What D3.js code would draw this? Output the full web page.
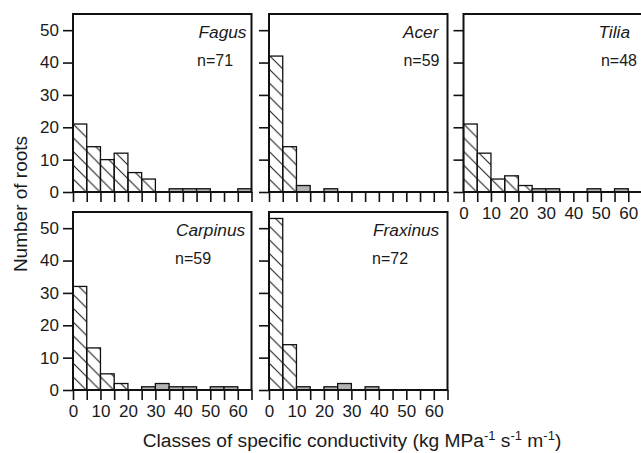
<!DOCTYPE html>
<html><head><meta charset="utf-8">
<script src="https://cdn.jsdelivr.net/npm/d3@7"></script>
<style>body{margin:0;background:#fff} svg{display:block}</style>
</head><body><svg id="c" width="641" height="453"></svg>
<script>
// ---- data ----
const binStarts = [0,5,10,15,20,25,30,35,40,45,50,55,60];
const binWidth = 5;
const xTicks = [0,5,10,15,20,25,30,35,40,45,50,55,60,65];
const xTickLabels = [0,10,20,30,40,50,60];
const yTicks = [0,10,20,30,40,50];
const species = ["Fagus","Acer","Tilia","Carpinus","Fraxinus"];
const sampleSizes = [71,59,48,59,72];
const fagusHatched    = [21,14,10,12,6,4,0,0,0,0,0,0,0];
const fagusGrey       = [0,0,0,0,0,0,0,1,1,1,0,0,1];
const acerHatched     = [42,14,0,0,0,0,0,0,0,0,0,0,0];
const acerGrey        = [0,0,2,0,1,0,0,0,0,0,0,0,0];
const tiliaHatched    = [21,12,4,5,2,0,0,0,0,0,0,0,0];
const tiliaGrey       = [0,0,0,0,0,1,1,0,0,1,0,1,0];
const carpinusHatched = [32,13,5,2,0,0,0,0,0,0,0,0,0];
const carpinusGrey    = [0,0,0,0,0,1,2,1,1,0,1,1,0];
const fraxinusHatched = [53,14,0,0,0,0,0,0,0,0,0,0,0];
const fraxinusGrey    = [0,0,1,0,1,2,0,1,0,0,0,0,0];
const hatchedSeries = [fagusHatched, acerHatched, tiliaHatched, carpinusHatched, fraxinusHatched];
const greySeries = [fagusGrey, acerGrey, tiliaGrey, carpinusGrey, fraxinusGrey];

// ---- layout ----
const colLeft = [73, 269, 463.5];
const rowTop = [14, 212];
const pw = 178.5, ph = 178;
const panelPos = [[0,0],[1,0],[2,0],[0,1],[1,1]];
const showYLabels = [true,false,false,true,false];
const showXLabels = [false,false,true,true,true];
const labelPlace = [
  {sa:"end", sx:-5, na:"start", nx:124},
  {sa:"end", sx:-9, na:"end", nx:-8},
  {sa:"end", sx:-12, na:"end", nx:-5},
  {sa:"start", sx:103, na:"start", nx:102},
  {sa:"start", sx:104, na:"start", nx:103}
];
const font = "'Liberation Sans', Arial, Helvetica, sans-serif";

const svg = d3.select("#c");
const defs = svg.append("defs");
const x = d3.scaleLinear().domain([0,65]).range([0,pw]);
const y = d3.scaleLinear().domain([0,55]).range([ph,0]);
const hs = x(binWidth) - x(0);
const pat = defs.append("pattern").attr("id","hatch").attr("patternUnits","userSpaceOnUse")
  .attr("width",hs).attr("height",hs);
pat.append("path").attr("d",`M0,0L${hs},${hs}M${-2},${hs-2}L2,${hs+2}M${hs-2},-2L${hs+2},2`)
  .attr("stroke","#111").attr("stroke-width",1).attr("fill","none");

species.forEach((sp,i)=>{
  const [c,r] = panelPos[i];
  const g = svg.append("g").attr("transform",`translate(${colLeft[c]},${rowTop[r]})`);
  const bars = binStarts.map((b,k)=>({b, h:hatchedSeries[i][k], gr:greySeries[i][k]}));
  g.selectAll("rect.h").data(bars.filter(d=>d.h>0)).join("rect").attr("class","h")
    .attr("x",d=>x(d.b)).attr("width",d=>x(d.b+binWidth)-x(d.b))
    .attr("y",d=>y(d.h)).attr("height",d=>y(0)-y(d.h))
    .attr("fill","url(#hatch)").attr("stroke","#111").attr("stroke-width",1.3);
  g.selectAll("rect.g").data(bars.filter(d=>d.gr>0)).join("rect").attr("class","g")
    .attr("x",d=>x(d.b)).attr("width",d=>x(d.b+binWidth)-x(d.b))
    .attr("y",d=>y(d.gr)).attr("height",d=>y(0)-y(d.gr))
    .attr("fill","#b4b4b4").attr("stroke","#111").attr("stroke-width",1.3);
  g.append("rect").attr("x",0).attr("y",0).attr("width",pw).attr("height",ph)
    .attr("fill","none").attr("stroke","#111").attr("stroke-width",2);
  const ya = g.append("g").call(d3.axisLeft(y).tickValues(yTicks).tickSize(10).tickPadding(4)
    .tickFormat(d=>showYLabels[i]?d:""));
  const xa = g.append("g").attr("transform",`translate(0,${ph})`)
    .call(d3.axisBottom(x).tickValues(xTicks).tickSize(10).tickPadding(5)
    .tickFormat(d=>showXLabels[i] && xTickLabels.includes(d)?d:""));
  [ya,xa].forEach(a=>{
    a.select(".domain").remove();
    a.selectAll("line").attr("stroke","#111").attr("stroke-width",1.6);
    a.selectAll("text").attr("fill","#1a1a1a").style("font-family",font).style("font-size","17px");
  });
  const lp = labelPlace[i];
  g.append("text").attr("x", lp.sa==="end"?pw+lp.sx:lp.sx).attr("y",23.5)
    .attr("text-anchor",lp.sa).style("font-family",font).style("font-size","17.3px")
    .style("font-style","italic").attr("fill","#1a1a1a").text(sp);
  g.append("text").attr("x", lp.na==="end"?pw+lp.nx:lp.nx).attr("y",52)
    .attr("text-anchor",lp.na).style("font-family",font).style("font-size","16px")
    .attr("fill","#1a1a1a").text("n="+sampleSizes[i]);
});

// axis titles
svg.append("text").attr("transform","translate(27,204) rotate(-90)").attr("text-anchor","middle")
  .style("font-family",font).style("font-size","19px").attr("fill","#1a1a1a").text("Number of roots");
const xt = svg.append("text").attr("x",352).attr("y",447).attr("text-anchor","middle")
  .style("font-family",font).style("font-size","19.2px").attr("fill","#1a1a1a");
xt.append("tspan").text("Classes of specific conductivity (kg MPa");
xt.append("tspan").attr("dy",-7).style("font-size","13px").text("-1");
xt.append("tspan").attr("dy",7).text(" s");
xt.append("tspan").attr("dy",-7).style("font-size","13px").text("-1");
xt.append("tspan").attr("dy",7).text(" m");
xt.append("tspan").attr("dy",-7).style("font-size","13px").text("-1");
xt.append("tspan").attr("dy",7).text(")");
</script></body></html>
